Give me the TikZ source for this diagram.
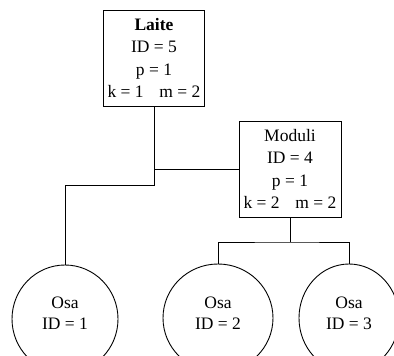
\documentclass[tikz,border=0pt]{standalone}
\usepackage{fontspec}
\setmainfont{Liberation Serif}
\usetikzlibrary{shapes.geometric}
\begin{document}
\begin{tikzpicture}[x=1pt,y=-1pt,line width=0.9pt,
  info/.style={draw,rectangle,inner sep=0pt,align=center,font=\fontsize{17.5}{22.5}\selectfont},
  part/.style={draw,ellipse,inner sep=0pt},
  partlabel/.style={align=center,font=\fontsize{17.5}{21}\selectfont}]
\clip (0,0) rectangle (394,356);
\node[info,minimum width=101pt,minimum height=96pt] (laite) at (154,58)
  {\textbf{Laite}\\ID = 5\\p = 1\\k = 1\hspace{0.9em}m = 2};
\node[info,minimum width=102pt,minimum height=96pt] (moduli) at (290,169)
  {Moduli\\ID = 4\\p = 1\\k = 2\hspace{0.9em}m = 2};
\node[part,minimum width=106pt,minimum height=108pt] (osa1) at (65,319) {};
\node[part,minimum width=110pt,minimum height=108pt] (osa2) at (218,318) {};
\node[part,minimum width=100pt,minimum height=108pt] (osa3) at (349,318) {};
\node[partlabel] (t1) at (65,313) {Osa\\ID = 1};
\node[partlabel] (t2) at (218,313) {Osa\\ID = 2};
\node[partlabel] (t3) at (349,313) {Osa\\ID = 3};
\coordinate (lj) at (154,185);
\coordinate (mj) at (290,242);
\draw (laite.south) -- (lj) -| (osa1.north);
\draw (laite.south |- moduli.west) -- (moduli.west);
\draw (moduli.south) -- (mj);
\draw (osa2.north) |- (mj) -| (osa3.north);
\end{tikzpicture}
\end{document}
